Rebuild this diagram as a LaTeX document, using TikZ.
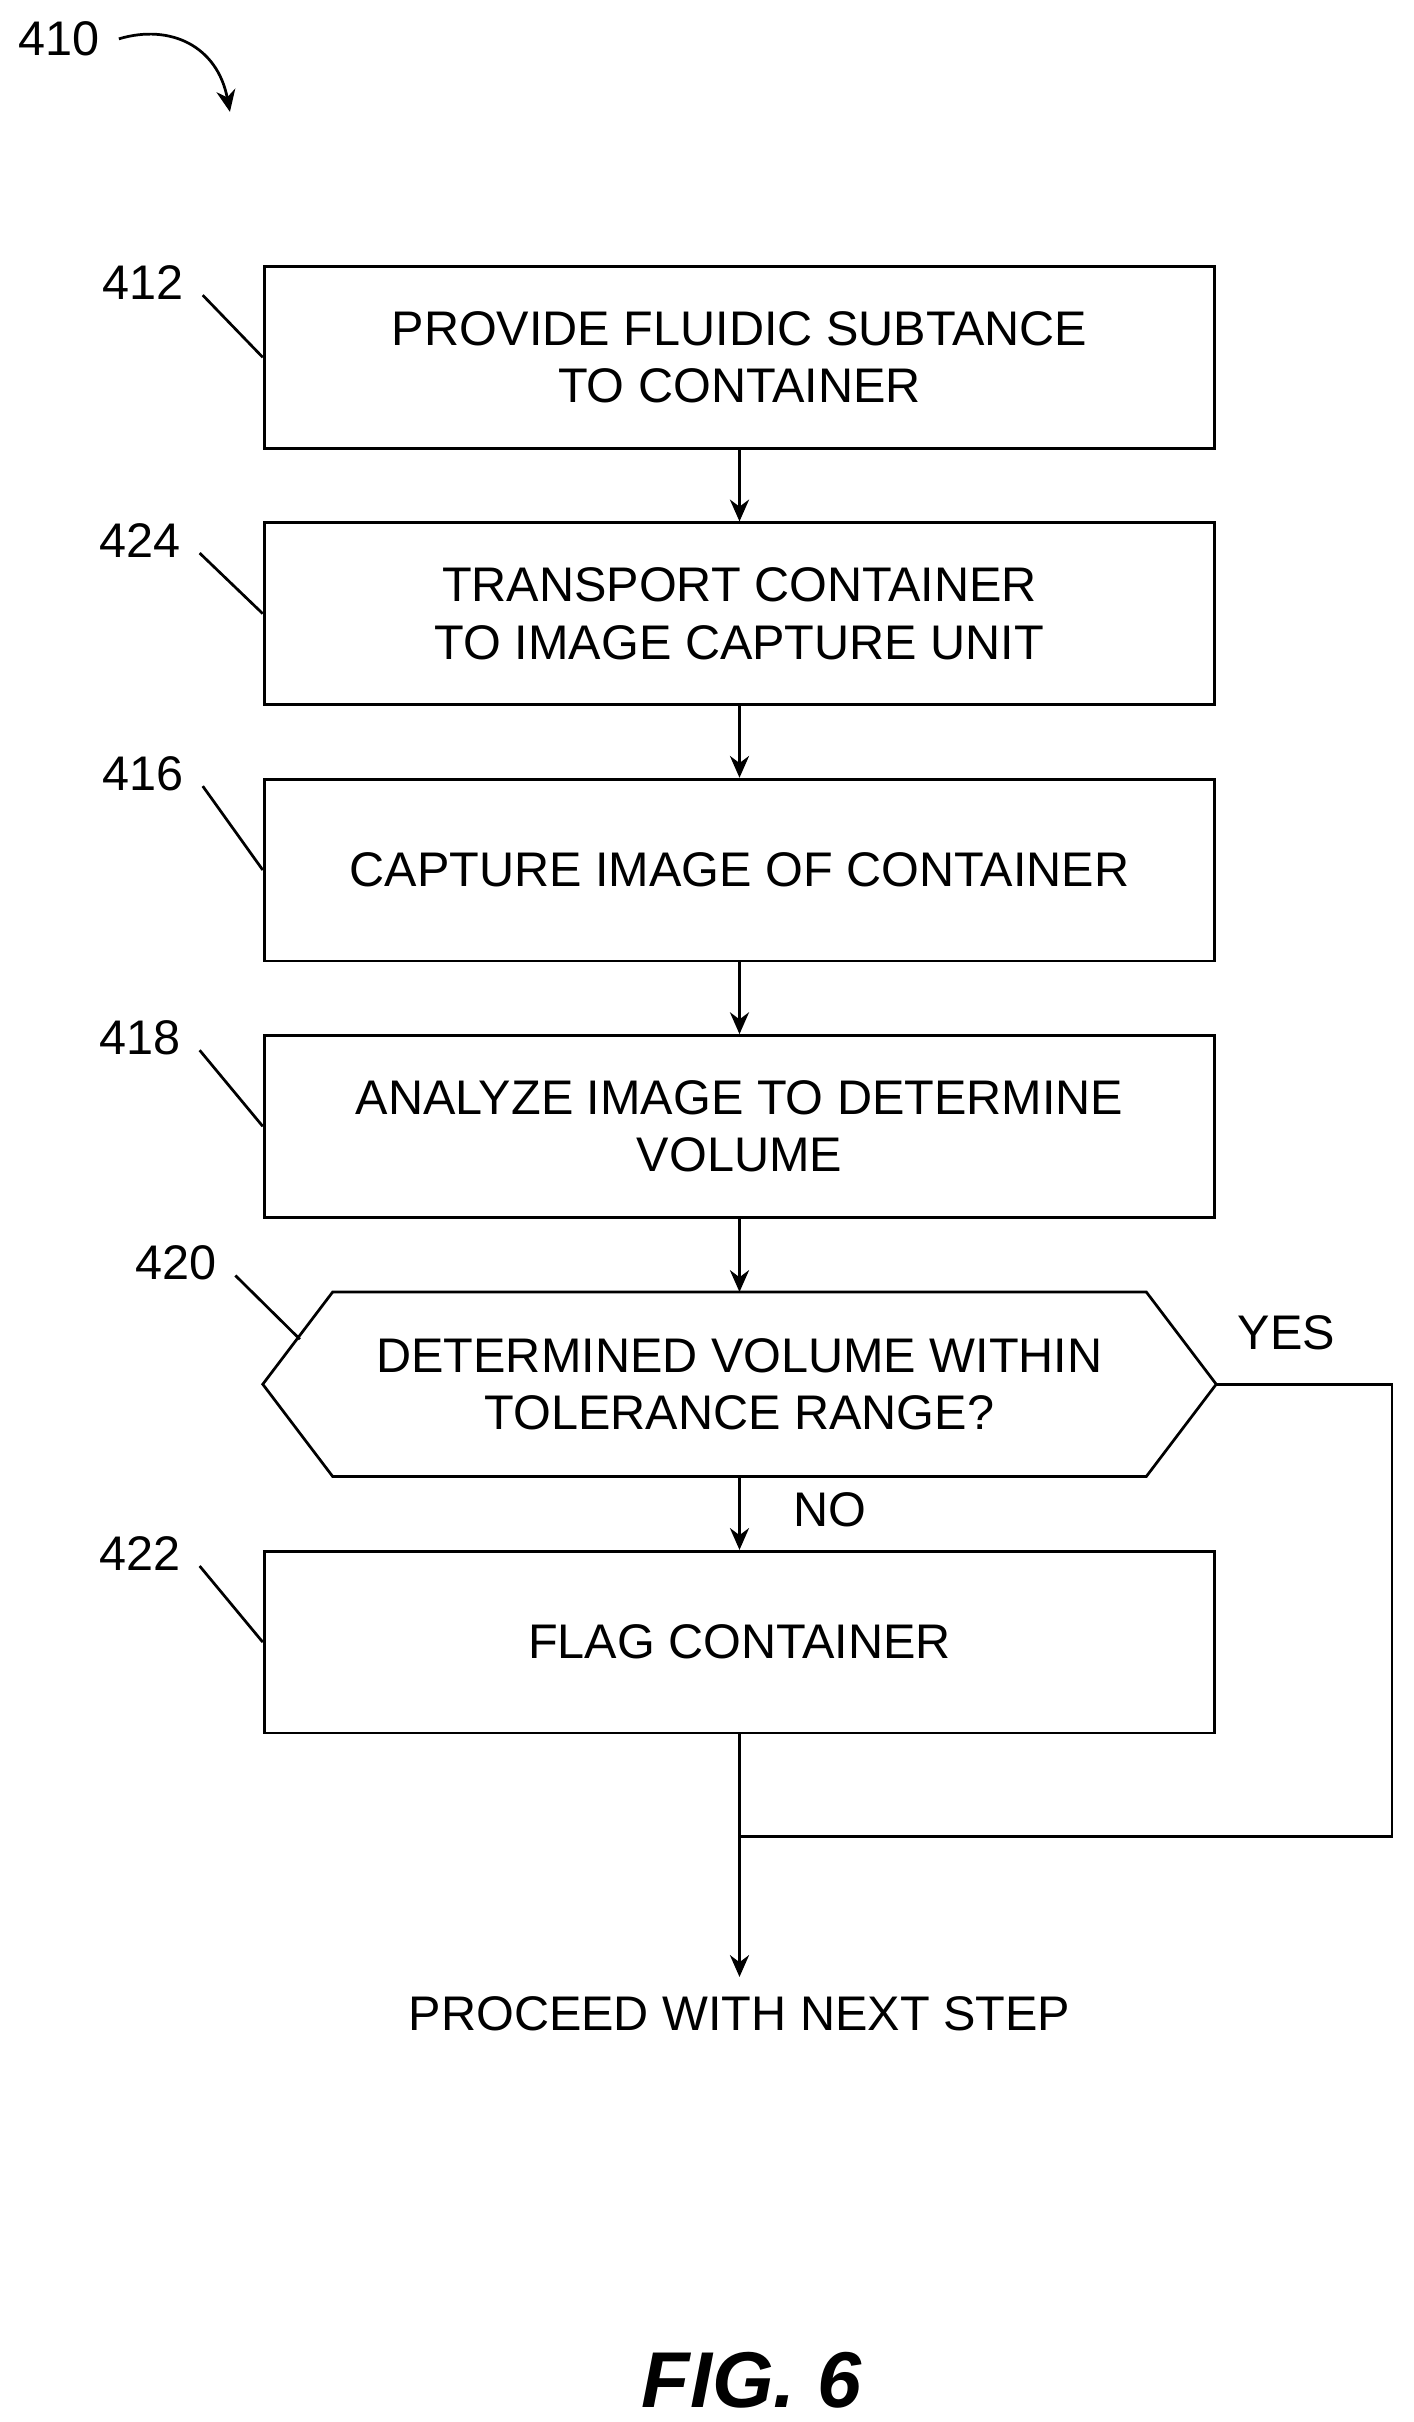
\documentclass[tikz,border=0pt]{standalone}
\usepackage{fontspec}
\setmainfont{Liberation Sans}
\usetikzlibrary{arrows.meta}
\begin{document}
\begin{tikzpicture}[x=0.1cm,y=-0.1cm,
 box/.style={draw,line width=0.5pt,minimum width=6.12cm,minimum height=1.17cm,align=center,font=\fontsize{8.9}{10.5}\selectfont,inner sep=0pt},
 lbl/.style={font=\fontsize{8.9}{10}\selectfont},
 ar/.style={line width=0.5pt,-{Stealth[length=4pt,width=3.5pt]}},
 ln/.style={line width=0.5pt}]
\useasboundingbox (0,0) rectangle (91,155.9);
\node[box] (b1) at (47.6,23) {PROVIDE FLUIDIC SUBTANCE\\TO CONTAINER};
\node[box] (b2) at (47.6,39.5) {TRANSPORT CONTAINER\\TO IMAGE CAPTURE UNIT};
\node[box] (b3) at (47.6,56) {CAPTURE IMAGE OF CONTAINER};
\node[box] (b4) at (47.6,72.5) {ANALYZE IMAGE TO DETERMINE\\VOLUME};
\node[box,draw=none] (d) at (47.6,89.1) {DETERMINED VOLUME WITHIN\\TOLERANCE RANGE?};
\draw[ln] (d.west) -- ([xshift=4.5mm]d.north west) -- ([xshift=-4.5mm]d.north east) -- (d.east) -- ([xshift=-4.5mm]d.south east) -- ([xshift=4.5mm]d.south west) -- cycle;
\node[box] (b6) at (47.6,105.7) {FLAG CONTAINER};
\node[lbl] (end) at (47.6,129.6) {PROCEED WITH NEXT STEP};
\node[font=\bfseries\itshape\fontsize{14.5}{17}\selectfont] (fig) at (48.4,153.2) {FIG. 6};
\draw[ar] (b1) -- (b2);
\draw[ar] (b2) -- (b3);
\draw[ar] (b3) -- (b4);
\draw[ar] (b4) -- (d);
\draw[ar] (d) -- (b6);
\coordinate (j) at (47.6,118.2);
\coordinate (r1) at (89.6,89.1);
\coordinate (r2) at (89.6,118.2);
\draw[ln] (d.east) -- (r1) -- (r2) -- (j);
\draw[ar] (b6) -- (j) -- (end.north);
\node[lbl] (yes) at (82.8,85.8) {YES};
\node[lbl] (no) at (53.4,97.2) {NO};
\node[lbl] (l410) at (3.8,2.5) {410};
\node[lbl] (l412) at (9.2,18.2) {412};
\node[lbl] (l424) at (9,34.8) {424};
\node[lbl] (l416) at (9.2,49.8) {416};
\node[lbl] (l418) at (9,66.8) {418};
\node[lbl] (l420) at (11.3,81.3) {420};
\node[lbl] (l422) at (9,100) {422};
\draw[ln] (l412.east)++(0,0.8) -- (b1.west);
\draw[ln] (l424.east)++(0,0.8) -- (b2.west);
\draw[ln] (l416.east)++(0,0.8) -- (b3.west);
\draw[ln] (l418.east)++(0,0.8) -- (b4.west);
\draw[ln] (l420.east)++(0,0.8) -- (19.3,86.2);
\draw[ln] (l422.east)++(0,0.8) -- (b6.west);
\coordinate (t410) at (14.8,7.2);
\draw[ar] (l410.east) .. controls (11,1.5) and (14,3) .. (t410);
\end{tikzpicture}
\end{document}
